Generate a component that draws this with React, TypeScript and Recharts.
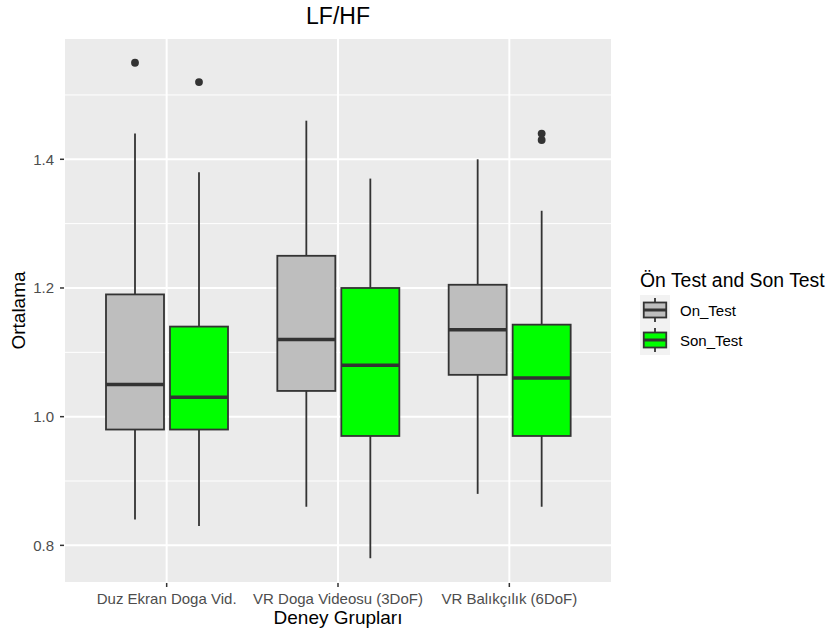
import React from "react";
import { ComposedChart, Bar, XAxis, YAxis, CartesianGrid, Label } from "recharts";

const categories = ["Duz Ekran Doga Vid.", "VR Doga Videosu (3DoF)", "VR Balıkçılık (6DoF)"];

const onLow = [0.84, 0.86, 0.88];
const onQ1 = [0.98, 1.04, 1.065];
const onMedian = [1.05, 1.12, 1.135];
const onQ3 = [1.19, 1.25, 1.205];
const onHigh = [1.44, 1.46, 1.4];
const onOutliers = [[1.55], [], []];

const sonLow = [0.83, 0.78, 0.86];
const sonQ1 = [0.98, 0.97, 0.97];
const sonMedian = [1.03, 1.08, 1.06];
const sonQ3 = [1.14, 1.2, 1.143];
const sonHigh = [1.38, 1.37, 1.32];
const sonOutliers = [[1.52], [], [1.44, 1.43]];

const majorTicks = [0.8, 1.0, 1.2, 1.4];
const minorTicks = [0.9, 1.1, 1.3, 1.5];

const seriesNames = ["On_Test", "Son_Test"];
const seriesFills = ["#BEBEBE", "#00FF00"];

const data = categories.map((group, i) => ({
  group,
  on: { low: onLow[i], q1: onQ1[i], median: onMedian[i], q3: onQ3[i], high: onHigh[i], outliers: onOutliers[i] },
  son: { low: sonLow[i], q1: sonQ1[i], median: sonMedian[i], q3: sonQ3[i], high: sonHigh[i], outliers: sonOutliers[i] },
}));

const allValues = [
  ...onLow, ...onHigh, ...sonLow, ...sonHigh,
  ...onOutliers.flat(), ...sonOutliers.flat(),
];
const dataMin = Math.min(...allValues);
const dataMax = Math.max(...allValues);
const expand = (dataMax - dataMin) * 0.05;
const yDomain = [dataMin - expand, dataMax + expand];

const STROKE = "#333333";

function makeBoxShape(key: "on" | "son", fill: string) {
  return (props: any) => {
    const { x, y, width, height, payload } = props;
    const s = payload[key];
    const pxHigh = Math.min(y, y + height);
    const pxLow = Math.max(y, y + height);
    const py = (v: number) => pxHigh + ((s.high - v) / (s.high - s.low)) * (pxLow - pxHigh);
    const cx = x + width / 2;
    return (
      <g>
        <line x1={cx} x2={cx} y1={py(s.high)} y2={py(s.q3)} stroke={STROKE} strokeWidth={1.8} />
        <line x1={cx} x2={cx} y1={py(s.q1)} y2={py(s.low)} stroke={STROKE} strokeWidth={1.8} />
        <rect x={x} y={py(s.q3)} width={width} height={py(s.q1) - py(s.q3)} fill={fill} stroke={STROKE} strokeWidth={1.8} />
        <line x1={x} x2={x + width} y1={py(s.median)} y2={py(s.median)} stroke={STROKE} strokeWidth={3.5} />
        {s.outliers.map((o: number, j: number) => (
          <circle key={j} cx={cx} cy={py(o)} r={3.9} fill={STROKE} />
        ))}
      </g>
    );
  };
}

const FONT = "'Liberation Sans', Arial, Helvetica, sans-serif";

function LegendKey({ cy, fill }: { cy: number; fill: string }) {
  const kx = 640;
  const ks = 30;
  const top = cy - ks / 2;
  const cx = kx + ks / 2;
  return (
    <g>
      <rect x={kx} y={top} width={ks} height={ks} fill="#F2F2F2" />
      <line x1={cx} x2={cx} y1={top + ks * 0.1} y2={top + ks * 0.9} stroke={STROKE} strokeWidth={1.8} />
      <rect x={kx + ks * 0.125} y={top + ks * 0.25} width={ks * 0.75} height={ks * 0.5} fill={fill} stroke={STROKE} strokeWidth={1.8} />
      <line x1={kx + ks * 0.125} x2={kx + ks * 0.875} y1={cy} y2={cy} stroke={STROKE} strokeWidth={3} />
    </g>
  );
}

export default function App() {
  return (
    <div style={{ position: "absolute", left: 0, top: 0, width: 829, height: 631, fontFamily: FONT, background: "#FFFFFF" }}>
      <ComposedChart
        width={829}
        height={631}
        data={data}
        margin={{ top: 38, right: 217, bottom: 0, left: 0 }}
        barSize={58}
        barGap={6}
        style={{ fontFamily: FONT }}
      >
        <CartesianGrid
          fill="#EBEBEB"
          stroke="#FFFFFF"
          strokeWidth={1}
          vertical={false}
          horizontalValues={minorTicks}
        />
        <CartesianGrid stroke="#FFFFFF" strokeWidth={2} />
        <XAxis
          dataKey="group"
          type="category"
          padding={{ left: 17, right: 17 }}
          axisLine={false}
          tickSize={4}
          tickMargin={6}
          tickLine={{ stroke: STROKE, strokeWidth: 1.5 }}
          tick={{ fill: "#4D4D4D", fontSize: 15, fontFamily: FONT }}
          interval={0}
          height={48}
        >
          <Label
            value="Deney Grupları"
            position="insideBottom"
            offset={7}
            style={{ fontSize: 19, fill: "#000000", fontFamily: FONT }}
          />
        </XAxis>
        <YAxis
          type="number"
          domain={yDomain}
          ticks={majorTicks}
          allowDataOverflow
          axisLine={false}
          width={64}
          tickSize={4}
          tickMargin={6}
          tickLine={{ stroke: STROKE, strokeWidth: 1.5 }}
          tick={{ fill: "#4D4D4D", fontSize: 15, fontFamily: FONT }}
          tickFormatter={(v: number) => v.toFixed(1)}
        >
          <Label
            content={(p: any) => {
              const vb = p.viewBox;
              const cy = vb.y + vb.height / 2;
              return (
                <text
                  x={25}
                  y={cy}
                  transform={`rotate(-90, 25, ${cy})`}
                  textAnchor="middle"
                  fontSize={19}
                  fill="#000000"
                  fontFamily={FONT}
                >
                  Ortalama
                </text>
              );
            }}
          />
        </YAxis>
        <Bar
          dataKey={(d: any) => [d.on.low, d.on.high]}
          name={seriesNames[0]}
          fill={seriesFills[0]}
          shape={makeBoxShape("on", seriesFills[0])}
          isAnimationActive={false}
        />
        <Bar
          dataKey={(d: any) => [d.son.low, d.son.high]}
          name={seriesNames[1]}
          fill={seriesFills[1]}
          shape={makeBoxShape("son", seriesFills[1])}
          isAnimationActive={false}
        />
      </ComposedChart>
      <svg
        width={829}
        height={631}
        style={{ position: "absolute", left: 0, top: 0, pointerEvents: "none", fontFamily: FONT }}
      >
        <text x={338} y={24} textAnchor="middle" fontSize={23} fill="#000000">LF/HF</text>
        <text x={640} y={287} fontSize={19.4} fill="#000000">Ön Test and Son Test</text>
        <LegendKey cy={310} fill={seriesFills[0]} />
        <LegendKey cy={340} fill={seriesFills[1]} />
        <text x={680} y={315.5} fontSize={15} fill="#000000">{seriesNames[0]}</text>
        <text x={680} y={345.5} fontSize={15} fill="#000000">{seriesNames[1]}</text>
      </svg>
    </div>
  );
}
